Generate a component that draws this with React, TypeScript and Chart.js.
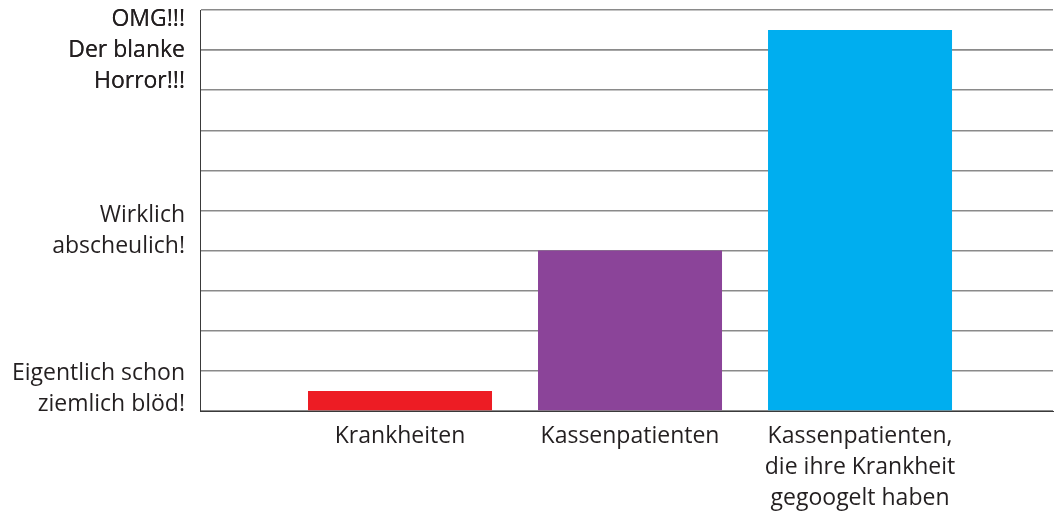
import React, { useEffect, useRef } from "react";
import { Chart, registerables } from "chart.js";

Chart.register(...registerables);

const categories: string[][] = [
  ["Krankheiten"],
  ["Kassenpatienten"],
  ["Kassenpatienten,", "die ihre Krankheit", "gegoogelt haben"],
];
const categoryPositions = [1, 2, 3];
const values = [0.5, 4, 9.5];
const barColors = ["#ED1C24", "#8B4499", "#00AEEF"];

const yLabelValues = [0.55, 4.5, 9];
const yLabels: string[][] = [
  ["Eigentlich schon", "ziemlich blöd!"],
  ["Wirklich", "abscheulich!"],
  ["OMG!!!", "Der blanke", "Horror!!!"],
];
const yGridValues = [0, 1, 2, 3, 4, 5, 6, 7, 8, 9, 10];

const FONT = "'Open Sans', sans-serif";
const TEXT = "#231F20";

export default function App() {
  const ref = useRef<HTMLCanvasElement | null>(null);
  useEffect(() => {
    if (!ref.current) return;
    const chart = new Chart(ref.current, {
      type: "bar",
      data: {
        datasets: [
          {
            data: categoryPositions.map((x, i) => ({ x, y: values[i] })),
            backgroundColor: barColors,
            borderWidth: 0,
            categoryPercentage: 1,
            barPercentage: 0.8,
          },
        ],
      },
      options: {
        animation: false,
        responsive: true,
        maintainAspectRatio: false,
        layout: { padding: { top: 10, right: 1, left: 0, bottom: 0 } },
        plugins: { legend: { display: false }, tooltip: { enabled: false } },
        scales: {
          x: {
            type: "linear",
            offset: false,
            min: 0.1304,
            max: 3.839,
            afterBuildTicks: (scale: any) => {
              scale.ticks = categoryPositions.map((v) => ({ value: v }));
            },
            afterFit: (scale: any) => {
              scale.height = 100;
              scale.paddingLeft = 0;
              scale.paddingRight = 0;
            },
            grid: { display: false, drawTicks: false, offset: false },
            border: { display: true, color: "#3a3a3a", width: 1 },
            ticks: {
              autoSkip: false,
              maxRotation: 0,
              padding: 10,
              color: TEXT,
              font: { family: FONT, size: 23, lineHeight: 31 / 23 },
              callback: (v: any) => {
                const i = categoryPositions.indexOf(Number(v));
                return i >= 0 ? categories[i] : "";
              },
            },
          },
          y: {
            type: "linear",
            min: 0,
            max: 10,
            afterBuildTicks: (scale: any) => {
              scale.ticks = [...yGridValues, ...yLabelValues]
                .sort((a, b) => a - b)
                .map((v) => ({ value: v }));
            },
            afterFit: (scale: any) => {
              scale.width = 200;
              scale.paddingTop = 0;
              scale.paddingBottom = 0;
            },
            grid: {
              drawTicks: false,
              lineWidth: 1.5,
              color: (ctx: any) =>
                ctx.tick && yGridValues.includes(ctx.tick.value) ? "#8a8a8a" : "rgba(0,0,0,0)",
            },
            border: { display: true, color: "#3a3a3a", width: 1 },
            ticks: {
              autoSkip: false,
              padding: 15,
              color: TEXT,
              font: { family: FONT, size: 23, lineHeight: 31 / 23 },
              callback: (v: any) => {
                const i = yLabelValues.indexOf(Number(v));
                return i >= 0 ? yLabels[i] : "";
              },
            },
          },
        },
      },
    });
    return () => chart.destroy();
  }, []);
  return (
    <div style={{ position: "fixed", left: 0, top: 0, width: 1054, height: 511, background: "#fff" }}>
      <canvas ref={ref} />
    </div>
  );
}
